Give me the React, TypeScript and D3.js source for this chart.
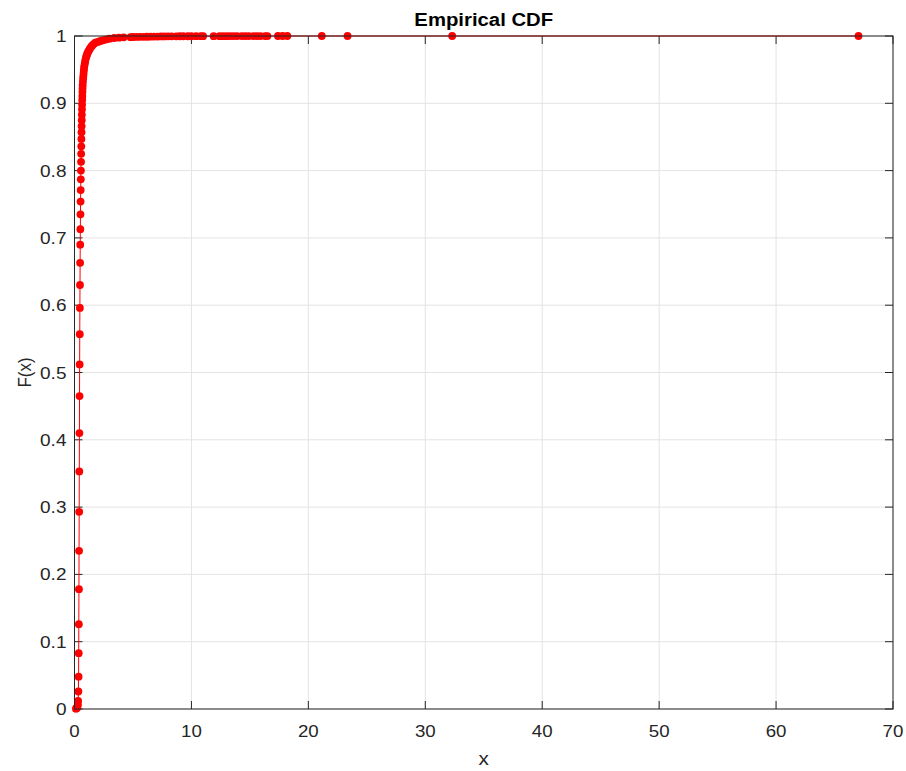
import React from "react";
import * as d3 from "d3";

const title = "Empirical CDF";
const xLabel = "x";
const yLabel = "F(x)";
const xTicks = [0, 10, 20, 30, 40, 50, 60, 70];
const yTicks = [0, 0.1, 0.2, 0.3, 0.4, 0.5, 0.6, 0.7, 0.8, 0.9, 1];

// Empirical CDF sample points
const xValues = [
  0.12, 0.18, 0.22, 0.26, 0.29, 0.31, 0.33, 0.35, 0.36, 0.37, 0.38, 0.39, 0.4,
  0.41, 0.42, 0.43, 0.44, 0.45, 0.46, 0.47, 0.48, 0.49, 0.5, 0.51, 0.52, 0.53,
  0.54, 0.55, 0.56, 0.57, 0.58, 0.59, 0.6, 0.61, 0.62, 0.63, 0.64, 0.65, 0.66,
  0.67, 0.68, 0.69, 0.7, 0.72, 0.74, 0.76, 0.78, 0.8, 0.82, 0.85, 0.88, 0.91,
  0.94, 0.98, 1.02, 1.06, 1.1, 1.15, 1.21, 1.28, 1.35, 1.43, 1.52, 1.64, 1.78,
  1.95, 2.12, 2.3, 2.5, 2.75, 3.0, 3.4, 3.8, 4.2, 4.8, 5.0, 5.3, 5.6, 5.9, 6.2,
  6.5, 6.8, 7.1, 7.4, 7.7, 8.0, 8.3, 8.7, 9.0, 9.3, 9.7, 10.0, 10.4, 10.8, 11.0,
  11.9, 12.4, 12.7, 13.0, 13.3, 13.6, 13.9, 14.3, 14.6, 14.9, 15.3, 15.6, 15.9,
  16.3, 16.5, 17.4, 17.8, 18.2, 21.15, 23.35, 32.3, 67.05,
];
const fValues = [
  0.0005, 0.001, 0.002, 0.004, 0.007, 0.012, 0.026, 0.048, 0.083, 0.126, 0.178,
  0.235, 0.293, 0.353, 0.41, 0.465, 0.512, 0.557, 0.596, 0.63, 0.663, 0.69,
  0.713, 0.735, 0.754, 0.771, 0.787, 0.8, 0.813, 0.825, 0.836, 0.847, 0.857,
  0.866, 0.875, 0.883, 0.891, 0.898, 0.905, 0.911, 0.917, 0.922, 0.927, 0.932,
  0.937, 0.941, 0.945, 0.949, 0.953, 0.956, 0.959, 0.962, 0.965, 0.968, 0.97,
  0.972, 0.974, 0.976, 0.978, 0.98, 0.982, 0.984, 0.986, 0.988, 0.99, 0.991,
  0.992, 0.993, 0.994, 0.995, 0.996, 0.997, 0.9975, 0.998, 0.9983, 0.9985,
  0.9986, 0.9987, 0.9988, 0.9989, 0.999, 0.9991, 0.9992, 0.9993, 0.9994,
  0.99945, 0.9995, 0.99955, 0.9996, 0.99962, 0.99964, 0.99966, 0.99968, 0.9997,
  0.99972, 0.99974, 0.99976, 0.99978, 0.9998, 0.99982, 0.99984, 0.99986,
  0.99988, 0.9999, 0.99991, 0.99992, 0.99993, 0.99994, 0.99995, 0.99996,
  0.99997, 0.99998, 0.99985, 0.99988, 0.99991, 0.99995, 1.0,
];

const W = 906;
const H = 771;
const left = 74.5;
const right = 893;
const top = 36;
const bottom = 709;

export default function App() {
  const x = d3.scaleLinear().domain([0, 70]).range([left, right]);
  const y = d3.scaleLinear().domain([0, 1]).range([bottom, top]);
  const pts = xValues.map((v, i) => [v, Math.min(fValues[i], 1)] as [number, number]);
  pts.sort((a, b) => a[0] - b[0]);
  for (let i = 1; i < pts.length; i++) if (pts[i][1] < pts[i - 1][1]) pts[i][1] = pts[i - 1][1];
  const line = d3
    .line<[number, number]>()
    .x((d) => x(d[0]))
    .y((d) => y(d[1]));
  const axisColor = "#262626";
  const gridColor = "#e3e3e3";
  const tickLen = 8;
  const font = "'Liberation Sans', Arial, Helvetica, sans-serif";
  return (
    <svg
      width={W}
      height={H}
      style={{ position: "absolute", left: 0, top: 0, background: "#fff" }}
      fontFamily={font}
    >
      <rect x={0} y={0} width={W} height={H} fill="#fff" />
      {xTicks.map((t) => (
        <line key={"gx" + t} x1={x(t)} x2={x(t)} y1={top} y2={bottom} stroke={gridColor} strokeWidth={1} />
      ))}
      {yTicks.map((t) => (
        <line key={"gy" + t} x1={left} x2={right} y1={y(t)} y2={y(t)} stroke={gridColor} strokeWidth={1} />
      ))}
      {xTicks.map((t) => (
        <g key={"tx" + t}>
          <line x1={x(t)} x2={x(t)} y1={bottom} y2={bottom - tickLen} stroke={axisColor} />
          <line x1={x(t)} x2={x(t)} y1={top} y2={top + tickLen} stroke={axisColor} />
          <text
            transform={`translate(${x(t)},737) scale(1.1,1)`}
            textAnchor="middle"
            fontSize={17}
            fill={axisColor}
          >
            {t}
          </text>
        </g>
      ))}
      {yTicks.map((t) => (
        <g key={"ty" + t}>
          <line x1={left} x2={left + tickLen} y1={y(t)} y2={y(t)} stroke={axisColor} />
          <line x1={right} x2={right - tickLen} y1={y(t)} y2={y(t)} stroke={axisColor} />
          <text
            transform={`translate(66.5,${y(t) + 6}) scale(1.12,1)`}
            textAnchor="end"
            fontSize={17}
            fill={axisColor}
          >
            {d3.format("~g")(t)}
          </text>
        </g>
      ))}
      <path d={line(pts) || ""} fill="none" stroke="#ff0000" strokeWidth={1} />
      {pts.map((p, i) => (
        <circle key={i} cx={x(p[0])} cy={y(p[1])} r={3.9} fill="#ff0000" />
      ))}
      <rect x={left} y={top} width={right - left} height={bottom - top} fill="none" stroke={axisColor} strokeWidth={1} />
      <text
        transform={`translate(${(left + right) / 2},26) scale(1.07,1)`}
        textAnchor="middle"
        fontSize={19}
        fontWeight="bold"
        fill="#000"
      >
        {title}
      </text>
      <text
        transform={`translate(${(left + right) / 2},765) scale(1.15,1)`}
        textAnchor="middle"
        fontSize={18}
        fill={axisColor}
      >
        {xLabel}
      </text>
      <text
        transform={`translate(31, ${(top + bottom) / 2}) scale(1.1,1) rotate(-90)`}
        textAnchor="middle"
        fontSize={17}
        fill={axisColor}
      >
        {yLabel}
      </text>
    </svg>
  );
}
